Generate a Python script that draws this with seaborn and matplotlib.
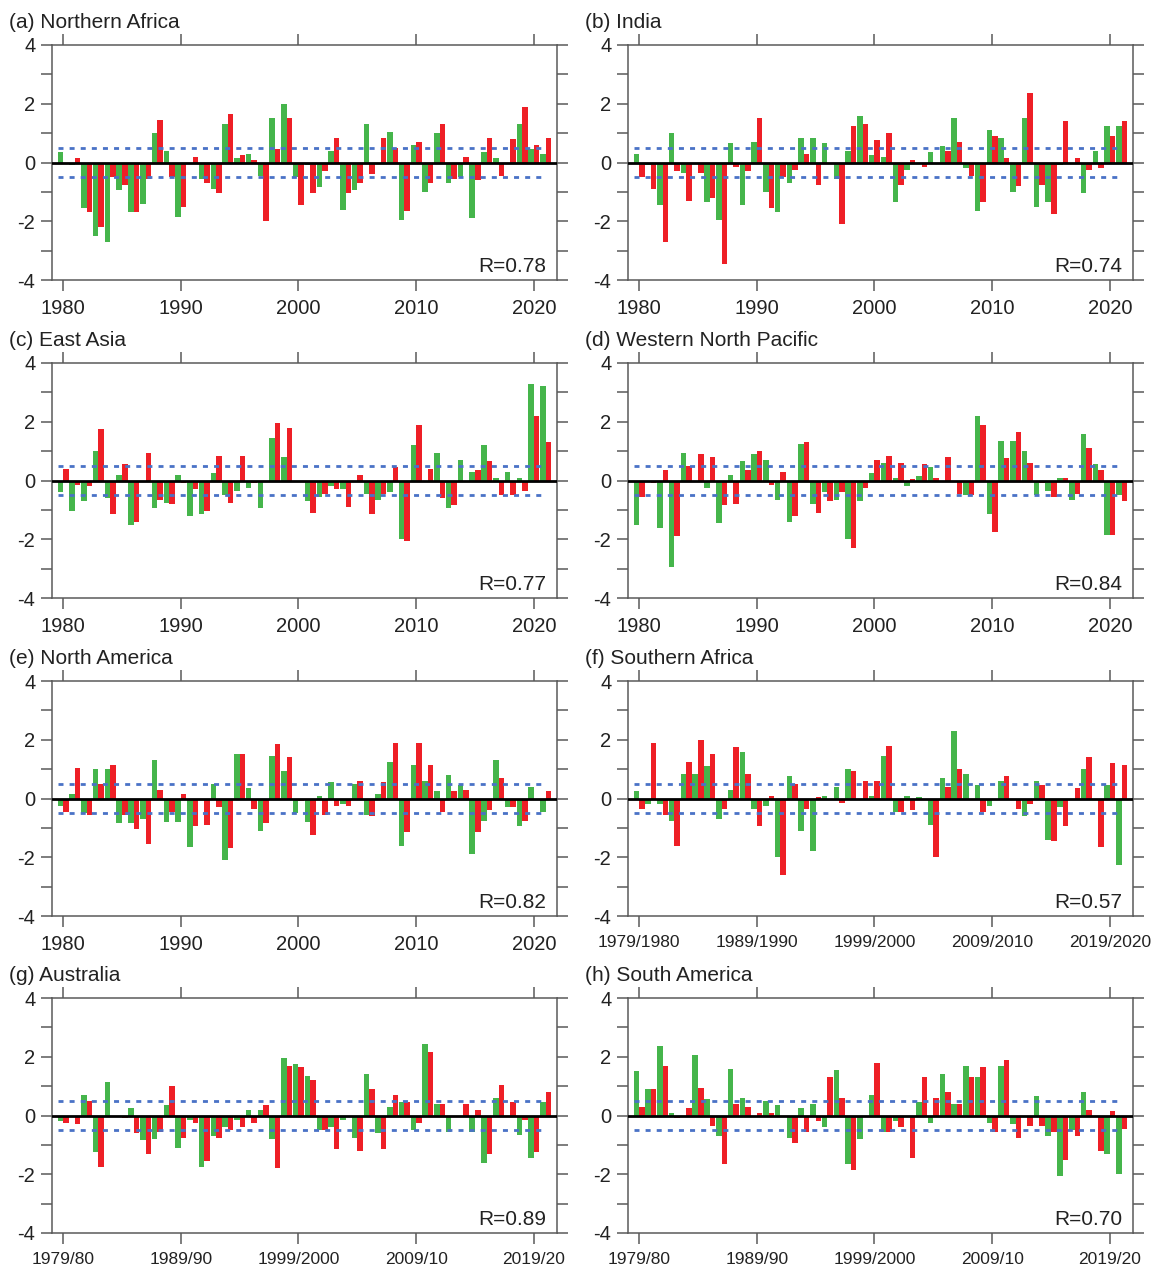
import matplotlib
matplotlib.use("Agg")
import pandas as pd
import matplotlib.pyplot as plt
from matplotlib import font_manager
import seaborn as sns

# one green/red pair of bars per year position
years = list(range(1980, 2022))

titles = ["(a) Northern Africa", "(b) India", "(c) East Asia", "(d) Western North Pacific",
          "(e) North America", "(f) Southern Africa", "(g) Australia", "(h) South America"]
r_values = ["0.78", "0.74", "0.77", "0.84", "0.82", "0.57", "0.89", "0.70"]

tick_years = [1980, 1990, 2000, 2010, 2020]
labels_annual = ["1980", "1990", "2000", "2010", "2020"]
labels_season_long = ["1979/1980", "1989/1990", "1999/2000", "2009/2010", "2019/2020"]
labels_season_short = ["1979/80", "1989/90", "1999/2000", "2009/10", "2019/20"]

# (a) Northern Africa
na_green = [0.35, -0.1, -1.55, -2.5, -2.7, -0.95, -1.7, -1.4, 1.0, 0.4,
            -1.85, 0.0, -0.55, -0.9, 1.3, 0.15, 0.3, -0.45, 1.5, 2.0,
            -0.5, -0.1, -0.85, 0.4, -1.6, -0.95, 1.3, 0.0, 1.05, -1.95,
            0.6, -1.0, 1.0, -0.7, -0.5, -1.9, 0.35, 0.15, 0.0, 1.3,
            0.45, 0.3]
na_red = [0.0, 0.15, -1.7, -2.2, -0.5, -0.75, -1.7, -0.55, 1.45, -0.5,
          -1.5, 0.2, -0.7, -1.05, 1.65, 0.25, 0.1, -2.0, 0.45, 1.5,
          -1.45, -1.05, -0.3, 0.85, -1.05, -0.7, -0.4, 0.85, 0.5, -1.65,
          0.7, -0.7, 1.3, -0.55, 0.2, -0.6, 0.85, -0.45, 0.8, 1.9,
          0.6, 0.85]

# (b) India
in_green = [0.3, -0.1, -1.45, 1.0, -0.35, -0.05, -1.35, -1.95, 0.65, -1.45,
            0.7, -1.0, -1.7, -0.7, 0.85, 0.85, 0.65, -0.55, 0.4, 1.6,
            0.25, 0.2, -1.35, -0.25, 0.0, 0.35, 0.55, 1.5, -0.2, -1.65,
            1.1, 0.85, -1.0, 1.5, -1.5, -1.35, -0.1, 0.0, -1.05, 0.4,
            1.25, 1.25]
in_red = [-0.5, -0.9, -2.7, -0.3, -1.3, -0.35, -1.2, -3.45, -0.15, -0.3,
          1.5, -1.55, -0.5, -0.25, 0.3, -0.75, 0.0, -2.1, 1.25, 1.3,
          0.75, 1.0, -0.75, 0.1, -0.15, -0.05, 0.4, 0.7, -0.45, -1.35,
          0.9, 0.15, -0.8, 2.35, -0.75, -1.75, 1.4, 0.15, -0.25, -0.2,
          0.9, 1.4]

# (c) East Asia
ea_green = [-0.4, -1.05, -0.7, 1.0, -0.6, 0.2, -1.5, 0.0, -0.95, -0.75,
            0.2, -1.2, -1.15, 0.25, -0.5, -0.35, -0.25, -0.95, 1.45, 0.8,
            0.0, -0.7, -0.55, -0.2, -0.3, 0.0, -0.45, -0.65, -0.4, -2.0,
            1.2, 0.0, 0.95, -0.95, 0.7, 0.3, 1.2, 0.1, 0.3, 0.1,
            3.3, 3.2]
ea_red = [0.4, -0.15, -0.2, 1.75, -1.15, 0.55, -1.4, 0.95, -0.65, -0.8,
          -0.1, -0.3, -1.05, 0.85, -0.75, 0.85, -0.1, 0.0, 1.95, 1.8,
          -0.05, -1.1, -0.45, -0.3, -0.9, 0.2, -1.15, -0.45, 0.45, -2.05,
          1.9, 0.4, -0.6, -0.85, 0.0, 0.35, 0.65, -0.5, -0.5, -0.35,
          2.2, 1.3]

# (d) Western North Pacific
wnp_green = [-1.5, 0.0, -1.6, -2.95, 0.95, 0.0, -0.25, -1.45, 0.2, 0.65,
             0.9, 0.7, -0.65, -1.4, 1.25, -0.8, -0.4, -0.65, -2.0, -0.7,
             0.25, 0.6, 0.1, -0.2, 0.15, 0.45, 0.0, 0.0, -0.5, 2.2,
             -1.15, 1.35, 1.35, 1.0, -0.5, -0.35, 0.1, -0.65, 1.6, 0.55,
             -1.85, -0.5]
wnp_red = [-0.55, -0.1, 0.35, -1.9, 0.5, 0.9, 0.8, -0.85, -0.8, 0.35,
           1.0, -0.15, 0.3, -1.2, 1.3, -1.1, -0.7, -0.4, -2.3, -0.25,
           0.7, 0.85, 0.6, 0.05, 0.55, 0.1, 0.8, -0.45, -0.5, 1.9,
           -1.75, 0.75, 1.65, 0.6, -0.1, -0.55, 0.1, -0.45, 1.1, 0.35,
           -1.85, -0.7]

# (e) North America
nam_green = [-0.25, 0.15, -0.5, 1.0, 1.0, -0.85, -0.85, -0.7, 1.3, -0.8,
             -0.8, -1.65, 0.0, 0.5, -2.1, 1.5, 0.35, -1.1, 1.45, 0.95,
             -0.5, -0.8, 0.1, 0.55, -0.2, 0.5, -0.55, 0.15, 1.25, -1.6,
             1.15, 0.6, 0.25, 0.8, 0.45, -1.9, -0.75, 1.3, -0.3, -0.95,
             0.4, -0.45]
nam_red = [-0.45, 1.05, -0.55, 0.5, 1.15, -0.55, -1.05, -1.55, 0.3, -0.45,
           0.15, -0.95, -0.9, -0.3, -1.7, 1.5, -0.35, -0.85, 1.85, 1.4,
           -0.1, -1.25, -0.55, -0.25, -0.25, 0.6, -0.6, 0.55, 1.9, -1.15,
           1.9, 1.15, -0.45, 0.25, 0.3, -1.15, -0.4, 0.7, -0.3, -0.75,
           0.0, 0.25]

# (f) Southern Africa
saf_green = [0.25, -0.2, -0.2, -0.75, 0.85, 0.85, 1.1, -0.7, 0.3, 1.6,
             -0.35, -0.25, -2.0, 0.75, -1.1, -1.8, 0.1, 0.4, 1.0, 0.0,
             0.1, 1.45, -0.45, 0.1, 0.05, -0.9, 0.7, 2.3, 0.85, 0.45,
             -0.25, 0.6, 0.0, -0.6, 0.6, -1.4, -0.3, 0.0, 1.0, 0.0,
             0.45, -2.25]
saf_red = [-0.35, 1.9, -0.55, -1.6, 1.25, 2.0, 1.5, -0.35, 1.75, 0.85,
           -0.95, 0.1, -2.6, 0.5, -0.35, 0.05, 0.0, -0.15, 0.95, 0.6,
           0.6, 1.8, -0.45, -0.4, 0.0, -2.0, 0.4, 1.0, 0.0, -0.45,
           0.0, 0.75, -0.35, -0.2, 0.45, -1.45, -0.95, 0.35, 1.4, -1.65,
           1.2, 1.15]

# (g) Australia
au_green = [-0.2, 0.0, 0.7, -1.25, 1.15, 0.0, 0.25, -0.85, -0.8, 0.35,
            -1.1, -0.15, -1.75, -0.7, -0.4, -0.15, 0.2, 0.2, -0.8, 1.95,
            1.75, 1.35, -0.5, -0.4, -0.15, -0.75, 1.4, -0.6, 0.3, 0.45,
            -0.5, 2.45, 0.4, -0.55, 0.0, -0.55, -1.6, 0.6, 0.0, -0.65,
            -1.45, 0.45]
au_red = [-0.25, -0.3, 0.5, -1.75, 0.0, -0.1, -0.6, -1.3, -0.55, 1.0,
          -0.75, -0.25, -1.55, -0.75, -0.5, -0.4, -0.25, 0.35, -1.8, 1.7,
          1.65, 1.2, -0.5, -1.15, 0.0, -1.2, 0.9, -1.15, 0.7, 0.45,
          -0.25, 2.15, 0.4, 0.0, 0.4, 0.2, -1.3, 1.05, 0.45, -0.15,
          -1.25, 0.8]

# (h) South America
sam_green = [1.5, 0.9, 2.35, 0.1, 0.0, 2.05, 0.55, -0.7, 1.6, 0.6,
             0.0, 0.5, 0.35, -0.75, 0.25, 0.4, -0.4, 1.55, -1.65, -0.8,
             0.7, -0.55, -0.2, 0.0, 0.45, -0.25, 1.4, 0.4, 1.7, 1.3,
             -0.25, 1.7, -0.3, 0.0, 0.65, -0.7, -2.05, -0.5, 0.8, 0.0,
             -1.3, -2.0]
sam_red = [0.3, 0.9, 1.7, -0.1, 0.25, 0.95, -0.35, -1.65, 0.4, 0.3,
           0.1, 0.1, 0.0, -0.95, -0.55, -0.2, 1.3, 0.6, -1.85, 0.0,
           1.8, -0.55, -0.4, -1.45, 1.3, 0.6, 0.8, 0.4, 1.3, 1.65,
           -0.55, 1.9, -0.75, -0.35, -0.35, -0.55, -1.5, -0.7, 0.2, -1.2,
           0.15, -0.45]

greens = [na_green, in_green, ea_green, wnp_green, nam_green, saf_green, au_green, sam_green]
reds = [na_red, in_red, ea_red, wnp_red, nam_red, saf_red, au_red, sam_red]
xlabels = [labels_annual] * 5 + [labels_season_long, labels_season_short, labels_season_short]

GREEN = "#45b54b"
RED = "#ee1f26"
BLUE = "#4a72c6"
GREY = "#5a5a5a"

sns.set_theme(style="white")
plt.rcParams["font.family"] = ["Liberation Sans", "DejaVu Sans"]
plt.rcParams["axes.unicode_minus"] = False

# seasonal labels are set in a narrower face in the original
installed = {f.name for f in font_manager.fontManager.ttflist}
narrow = "Liberation Sans Narrow" if "Liberation Sans Narrow" in installed else None

fig = plt.figure(figsize=(11.54, 12.74), dpi=100)

W, H = 1154, 1274
col_left = [52, 628]
col_width = 505
row_top = [45, 363, 681, 998]
ax_h = 235

for i in range(8):
    row, col = divmod(i, 2)
    ax = fig.add_axes([col_left[col] / W, 1 - (row_top[row] + ax_h) / H, col_width / W, ax_h / H])

    n = len(years)
    df = pd.DataFrame({
        "year": years * 2,
        "value": greens[i] + reds[i],
        "series": ["green"] * n + ["red"] * n,
    })
    sns.barplot(data=df, x="year", y="value", hue="series", hue_order=["green", "red"],
                palette={"green": GREEN, "red": RED}, native_scale=True, dodge=True,
                width=0.94, errorbar=None, saturation=1, linewidth=0, legend=False, ax=ax)

    # reference lines
    ax.hlines([0.5, -0.5], years[0] - 0.4, years[-1] - 0.05, colors=BLUE, linewidth=2,
              linestyles=(0, (1.8, 2.2)), zorder=3)
    ax.axhline(0, color="black", linewidth=2, zorder=4)

    ax.set_xlim(1979.05, 2021.97)
    ax.set_ylim(-4, 4)
    ax.set_xlabel("")
    ax.set_ylabel("")

    ax.set_xticks(tick_years)
    if i >= 5:
        if narrow:
            ax.set_xticklabels(xlabels[i], fontsize=14.5, family=narrow)
        else:
            ax.set_xticklabels(xlabels[i], fontsize=12.5)
    else:
        ax.set_xticklabels(xlabels[i], fontsize=14.5)
    yt = list(range(-4, 5))
    ax.set_yticks(yt)
    ax.set_yticklabels([str(v) if v % 2 == 0 else "" for v in yt], fontsize=14.5)

    ax.tick_params(axis="both", direction="out", length=8, width=1.1, color=GREY,
                   labelcolor="#222222", top=True, right=True, bottom=True, left=True,
                   labeltop=False, labelright=False)
    ax.tick_params(axis="y", pad=4)
    ax.tick_params(axis="x", pad=6)
    for s in ax.spines.values():
        s.set_color(GREY)
        s.set_linewidth(1.1)

    ax.text(-0.085, 1.095, titles[i], transform=ax.transAxes, fontsize=15,
            ha="left", va="center", color="#222222")
    ax.text(0.978, 0.058, "R=" + r_values[i], transform=ax.transAxes, fontsize=15,
            ha="right", va="center", color="#222222")

fig.savefig("out.png", dpi=100)
